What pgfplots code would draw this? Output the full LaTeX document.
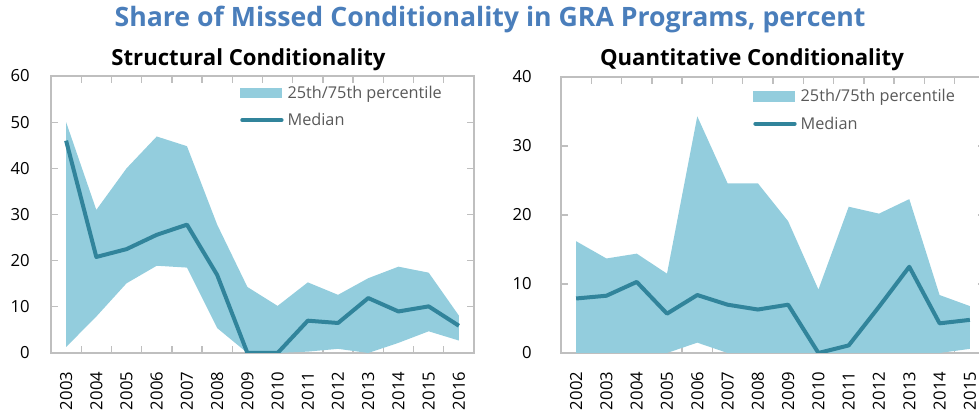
\documentclass[border=0pt]{standalone}
\usepackage{fontspec}
\setmainfont{Open Sans}
\usepackage{pgfplots}
\pgfplotsset{compat=1.18}
\definecolor{areac}{HTML}{93CDDD}
\definecolor{medc}{HTML}{31849B}
\definecolor{titc}{HTML}{4A7EBB}
\definecolor{framec}{HTML}{BFBFBF}
\definecolor{legc}{HTML}{595959}
\pgfplotsset{
  mystyle/.style={
    scale only axis,
    width=317.25pt, height=207.75pt,
    axis line style={framec, line width=1.2pt},
    tick style={framec, line width=1pt},
    tick align=inside,
    major tick length=5.25pt,
    minor tick length=5.25pt,
    xmin=-0.5, xmax=13.5,
    xtick={0,...,13},
    minor xtick={0.5,1.5,...,12.5},
    major x tick style={draw=none},
    /pgf/number format/assume math mode=true,
    tick label style={font=\fontsize{12.5}{15}\selectfont, text=black},
    xticklabel style={rotate=90, anchor=east, inner sep=0pt, xshift=-14pt},
    yticklabel style={anchor=east, inner sep=0pt},
    ymin=0,
    legend cell align=left,
    legend style={draw=none, fill=none, inner sep=0pt, anchor=north west,
      font=\fontsize{12.2}{15}\selectfont, text=legc, row sep=7.5pt,
      nodes={inner xsep=3pt, inner ysep=1pt}},
  },
  arealeg/.style={legend image code/.code={\fill[areac] (0pt,-4pt) rectangle (31.5pt,4pt);}},
  lineleg/.style={legend image code/.code={\draw[medc, line width=3pt, line cap=round] (1.5pt,0pt) -- (31pt,0pt);}},
}
\begin{document}
\begin{tikzpicture}
\useasboundingbox (0,0) rectangle (734.25pt,307.5pt);
\clip (0,0) rectangle (734.25pt,307.5pt);
\node[font=\bfseries\fontsize{20}{24}\selectfont, text=titc] at (367.5pt,293pt) {Share of Missed Conditionality in GRA Programs, percent};
\node[font=\bfseries\fontsize{16.6}{20}\selectfont] at (186.4pt,263pt) {Structural Conditionality};
\node[font=\bfseries\fontsize{16.6}{20}\selectfont] at (564pt,263pt) {Quantitative Conditionality};

\begin{axis}[mystyle, at={(38.25pt,42.75pt)}, anchor=south west,
  ymax=60, ytick={0,10,...,60},
  yticklabel style={xshift=-15.75pt},
  xticklabels={2003,2004,2005,2006,2007,2008,2009,2010,2011,2012,2013,2014,2015,2016},
  legend style={at={(rel axis cs:0.4468,0.97)}}]
\addplot[fill=areac, draw=none, arealeg] coordinates {
 (0,50) (1,31) (2,40) (3,46.9) (4,44.8) (5,27.8) (6,14.3) (7,10.2) (8,15.3) (9,12.6) (10,16.2) (11,18.7) (12,17.4) (13,8.1)
 (13,2.7) (12,4.7) (11,2.2) (10,0) (9,0.9) (8,0.3) (7,0) (6,0) (5,5.4) (4,18.5) (3,18.9) (2,15.1) (1,7.9) (0,1.3)} -- cycle;
\addlegendentry{25th/75th percentile}
\addplot[medc, line width=3pt, line join=round, lineleg] coordinates {
 (0,46.0) (1,20.8) (2,22.5) (3,25.6) (4,27.8) (5,16.9) (6,0) (7,0) (8,7.0) (9,6.5) (10,11.9) (11,9.0) (12,10.1) (13,5.9)};
\addlegendentry{Median}
\end{axis}

\begin{axis}[mystyle, at={(420.75pt,42.75pt)}, anchor=south west, width=318pt, height=207pt,
  ymax=40, ytick={0,10,...,40},
  yticklabel style={xshift=-21.75pt},
  xticklabels={2002,2003,2004,2005,2006,2007,2008,2009,2010,2011,2012,2013,2014,2015},
  legend style={at={(rel axis cs:0.453,0.96)}}]
\addplot[fill=areac, draw=none, arealeg] coordinates {
 (0,16.2) (1,13.7) (2,14.4) (3,11.5) (4,34.3) (5,24.6) (6,24.6) (7,19.1) (8,9.2) (9,21.2) (10,20.2) (11,22.3) (12,8.4) (13,6.8)
 (13,0.6) (12,0) (11,0) (10,0) (9,0) (8,0) (7,0) (6,0) (5,0) (4,1.5) (3,0) (2,0) (1,0) (0,0)} -- cycle;
\addlegendentry{25th/75th percentile}
\addplot[medc, line width=3pt, line join=round, lineleg] coordinates {
 (0,7.9) (1,8.3) (2,10.3) (3,5.7) (4,8.4) (5,7.0) (6,6.3) (7,7.0) (8,0) (9,1.1) (10,6.7) (11,12.5) (12,4.3) (13,4.8)};
\addlegendentry{Median}
\end{axis}
\end{tikzpicture}
\end{document}
